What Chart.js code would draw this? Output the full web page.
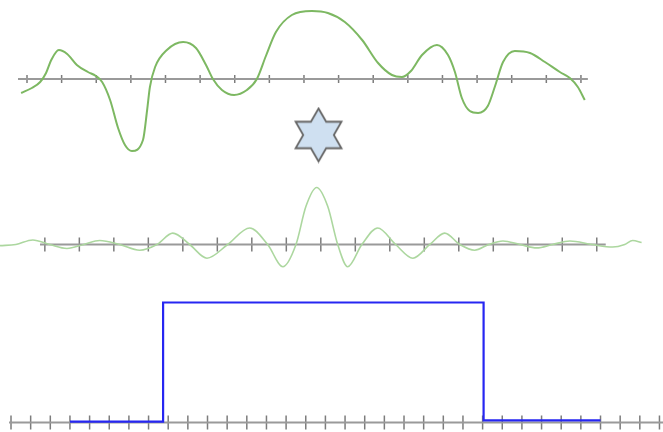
<!DOCTYPE html>
<html>
<head>
<meta charset="utf-8">
<script src="https://cdn.jsdelivr.net/npm/chart.js"></script>
<style>
  html, body { margin: 0; padding: 0; background: #fff; }
  body { width: 663px; height: 432px; position: relative; overflow: hidden; }
  .panel { position: absolute; left: 0; width: 663px; }
  #topPanel { top: 0; height: 175px; }
  #midPanel { top: 175px; height: 110px; }
  #botPanel { top: 285px; height: 147px; }
</style>
</head>
<body>
<div class="panel" id="topPanel"><canvas id="topChart" width="663" height="175"></canvas></div>
<div class="panel" id="midPanel"><canvas id="midChart" width="663" height="110"></canvas></div>
<div class="panel" id="botPanel"><canvas id="botChart" width="663" height="147"></canvas></div>
<script>
// signal f(t)
const signalX = [-8.17, -7.86, -7.62, -7.45, -7.30, -7.08, -6.84, -6.56, -6.24, -6.01, -5.83, -5.60, -5.37, -5.17,
  -4.97, -4.65, -4.53, -4.45, -4.30, -3.96, -3.49, -3.12, -2.83, -2.63, -2.37, -2.02, -1.65, -1.36, -1.10,
  -0.81, -0.35, 0.23, 0.69, 1.18, 1.68, 2.14, 2.54, 2.83, 3.09, 3.41, 3.84, 4.16, 4.36, 4.56, 4.79, 5.03,
  5.31, 5.52, 5.75, 6.09, 6.53, 6.96, 7.39, 7.68, 7.91, 8.11];
const signalY = [-0.70, -0.45, -0.15, 0.30, 0.95, 1.45, 1.25, 0.70, 0.35, 0.15, -0.15, -1.05, -2.45, -3.30,
  -3.60, -3.05, -1.55, -0.40, 0.60, 1.45, 1.85, 1.55, 0.70, 0, -0.55, -0.80, -0.55, 0, 1.15,
  2.35, 3.20, 3.40, 3.30, 2.85, 1.95, 0.80, 0.20, 0.10, 0.40, 1.20, 1.70, 1.20, 0.35, -0.95, -1.60, -1.70,
  -1.35, -0.35, 0.85, 1.40, 1.30, 0.85, 0.35, 0.05, -0.40, -1.05];
const signalTicks = [-8, -7, -6, -5, -4, -3, -2, -1, 0, 1, 2, 3, 4, 5, 6, 7, 8];
const signalAxis = [-8.26, 8.2];

// convolution operator position
const starX = [0.42];
const starY = [-2.8];

// sinc kernel
const sincX = [-9.30, -8.84, -8.35, -7.86, -7.36, -6.87, -6.41, -5.83, -5.25, -4.75, -4.29, -3.80, -3.30,
  -2.70, -2.06, -1.54, -1.10, -0.72, -0.43, -0.12, 0.20, 0.49, 0.78, 1.19, 1.65, 2.17, 2.67, 3.16, 3.59,
  4.03, 4.46, 4.87, 5.28, 5.77, 6.26, 6.72, 7.22, 7.86, 8.46, 8.81, 9.04, 9.30];
const sincY = [-0.02, 0, 0.08, 0, -0.07, 0, 0.07, 0, -0.10, 0, 0.20, 0, -0.24,
  0, 0.29, 0, -0.39, 0, 0.67, 1.0, 0.67, 0, -0.39, 0, 0.29, 0, -0.24, 0, 0.20,
  0, -0.10, 0, 0.06, 0, -0.06, 0, 0.06, 0, -0.045, 0, 0.07, 0.035];
const sincTicks = [-8, -7, -6, -5, -4, -3, -2, -1, 0, 1, 2, 3, 4, 5, 6, 7, 8];
const sincAxis = [-8.14, 8.26];

// rectangular window
const rectX = [3, 7.74, 7.74, 24.05, 24.05, 30];
const rectY = [0.008, 0.008, 1, 1, 0.017, 0.017];
const rectTicks = Array.from({ length: 34 }, (_, i) => i);
const rectAxis = [-0.1, 33.5];

const axisGray = '#9a9a9a';
const tickGray = '#7c7c7c';

function pts(xs, ys) {
  return xs.map((x, i) => ({ x: x, y: ys[i] }));
}

function axisSets(axis, ticks, tickLen) {
  return [
    {
      data: axis.map(x => ({ x: x, y: 0 })),
      showLine: true,
      borderColor: axisGray,
      borderWidth: 2,
      pointRadius: 0
    },
    {
      data: ticks.map(x => ({ x: x, y: 0 })),
      showLine: false,
      pointStyle: 'line',
      pointRotation: 90,
      pointRadius: tickLen,
      pointBorderWidth: 1.5,
      pointBorderColor: tickGray
    }
  ];
}

function baseOptions(xMin, xMax, yMin, yMax) {
  return {
    responsive: false,
    animation: false,
    events: [],
    layout: { padding: 0, autoPadding: false },
    plugins: { legend: { display: false }, tooltip: { enabled: false } },
    scales: {
      x: { type: 'linear', display: false, min: xMin, max: xMax },
      y: { type: 'linear', display: false, min: yMin, max: yMax }
    }
  };
}

// six-pointed star used as a point image
function hexagram(R, fill, stroke) {
  const c = document.createElement('canvas');
  const size = Math.ceil(R * 2 + 4);
  c.width = size;
  c.height = size;
  const g = c.getContext('2d');
  const cx = size / 2, cy = size / 2, r = R / Math.sqrt(3);
  g.beginPath();
  for (let i = 0; i < 12; i++) {
    const a = -Math.PI / 2 + i * Math.PI / 6;
    const rad = i % 2 === 0 ? R : r;
    const px = cx + Math.cos(a) * rad, py = cy + Math.sin(a) * rad;
    if (i === 0) g.moveTo(px, py); else g.lineTo(px, py);
  }
  g.closePath();
  g.fillStyle = fill;
  g.fill();
  g.lineWidth = 1.8;
  g.strokeStyle = stroke;
  g.lineJoin = 'miter';
  g.stroke();
  return c;
}

new Chart(document.getElementById('topChart'), {
  type: 'scatter',
  data: {
    datasets: [
      {
        data: pts(starX, starY),
        showLine: false,
        clip: false,
        pointStyle: hexagram(26.5, '#cfe0f1', '#666666'),
        pointRadius: 27
      },
      {
        data: pts(signalX, signalY),
        showLine: true,
        cubicInterpolationMode: 'monotone',
        borderColor: '#7db862',
        borderWidth: 2,
        pointRadius: 0
      },
      ...axisSets(signalAxis, signalTicks, 4)
    ]
  },
  options: baseOptions(-8.78, 10.37, -4.8, 3.95)
});

new Chart(document.getElementById('midChart'), {
  type: 'scatter',
  data: {
    datasets: [
      {
        data: pts(sincX, sincY),
        showLine: true,
        cubicInterpolationMode: 'monotone',
        borderColor: '#acd79f',
        borderWidth: 1.6,
        pointRadius: 0
      },
      ...axisSets(sincAxis, sincTicks, 7)
    ]
  },
  options: baseOptions(-9.30, 9.92, -0.7105, 1.219)
});

new Chart(document.getElementById('botChart'), {
  type: 'scatter',
  data: {
    datasets: [
      {
        data: pts(rectX, rectY),
        showLine: true,
        borderColor: '#2626f2',
        borderWidth: 2.2,
        pointRadius: 0
      },
      ...axisSets(rectAxis, rectTicks, 7)
    ]
  },
  options: baseOptions(-0.56, 33.18, -0.0792, 1.1458)
});
</script>
</body>
</html>
